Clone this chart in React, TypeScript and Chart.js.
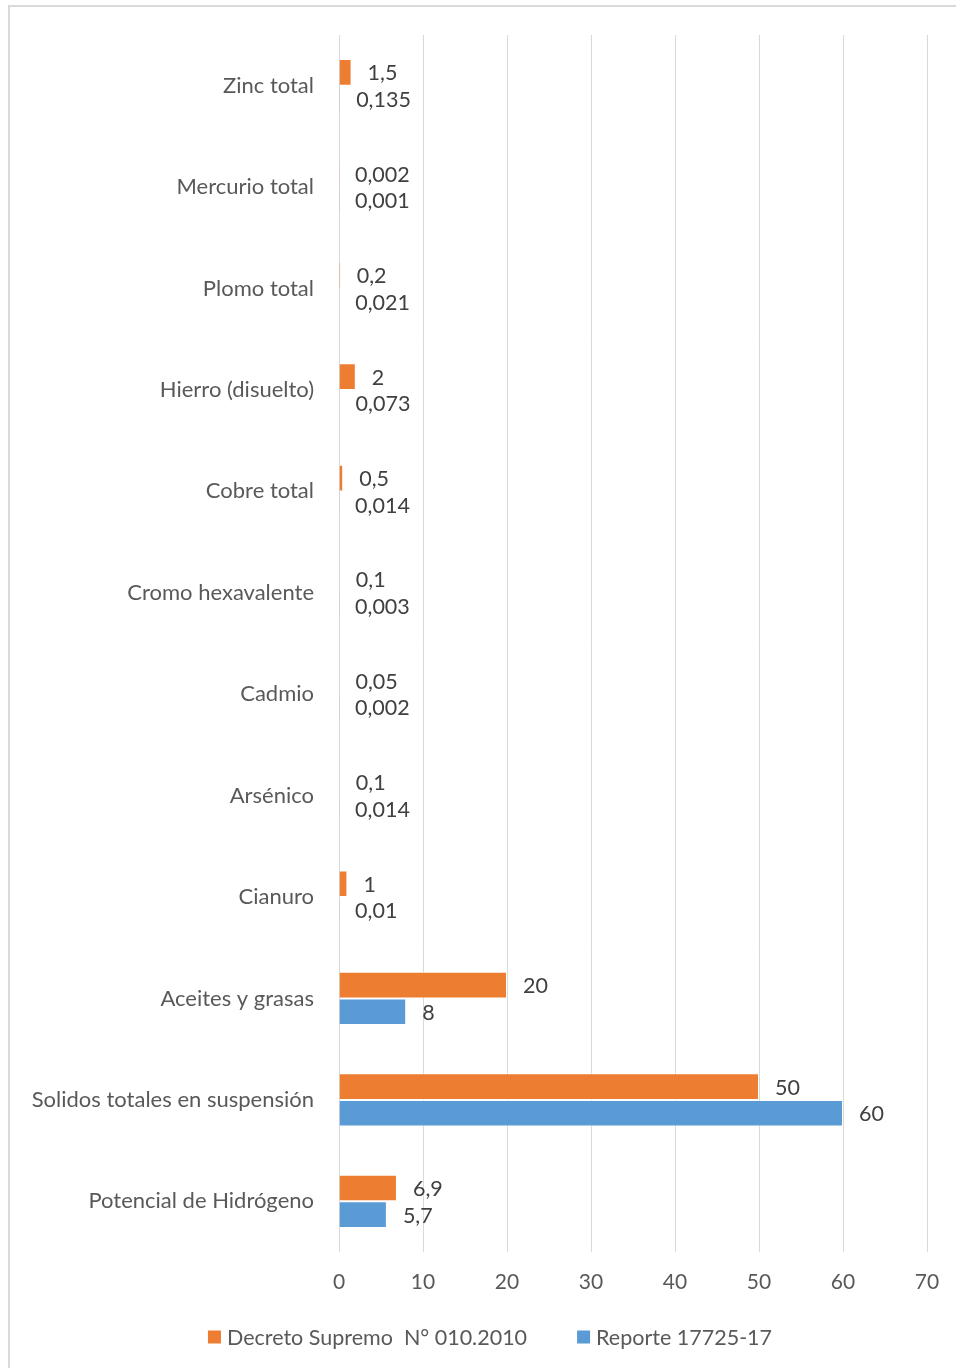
import React, { useEffect, useRef } from "react";
import { Chart, registerables } from "chart.js";

Chart.register(...registerables);

const categories = [
  "Zinc total",
  "Mercurio total",
  "Plomo total",
  "Hierro (disuelto)",
  "Cobre total",
  "Cromo hexavalente",
  "Cadmio",
  "Arsénico",
  "Cianuro",
  "Aceites y grasas",
  "Solidos totales en suspensión",
  "Potencial de Hidrógeno",
];

const decretoValues = [1.5, 0.002, 0.2, 2, 0.5, 0.1, 0.05, 0.1, 1, 20, 50, 6.9];
const reporteValues = [0.135, 0.001, 0.021, 0.073, 0.014, 0.003, 0.002, 0.014, 0.01, 8, 60, 5.7];

const seriesNames = ["Decreto Supremo  N° 010.2010", "Reporte 17725-17"];
const seriesColors = ["#ED7D31", "#5B9BD5"];

const xMin = 0;
const xMax = 70;
const xStep = 10;

const FONT = "Lato, 'Open Sans', sans-serif";

const valueLabelPlugin = {
  id: "valueLabels",
  afterDatasetsDraw(chart: any) {
    const ctx = chart.ctx;
    ctx.save();
    ctx.font = `21.5px ${FONT}`;
    ctx.fillStyle = "#404040";
    ctx.textAlign = "left";
    ctx.textBaseline = "middle";
    chart.data.datasets.forEach((ds: any, di: number) => {
      const meta = chart.getDatasetMeta(di);
      meta.data.forEach((el: any, i: number) => {
        const v = ds.data[i];
        const txt = String(v).replace(".", ",");
        ctx.fillText(txt, el.x + 16, el.y + 1);
      });
    });
    ctx.restore();
  },
};

const customLegendPlugin = {
  id: "customLegend",
  afterDraw(chart: any) {
    const ctx = chart.ctx;
    ctx.save();
    ctx.font = `21.5px ${FONT}`;
    ctx.textBaseline = "middle";
    ctx.textAlign = "left";
    const box = 13;
    const gapBoxText = 6;
    const gapItems = 50;
    const items = chart.data.datasets.map((ds: any) => ({
      label: ds.label,
      color: ds.backgroundColor,
      w: box + gapBoxText + ctx.measureText(ds.label).width,
    }));
    const total = items.reduce((s: number, it: any) => s + it.w, 0) + gapItems * (items.length - 1);
    let x = (chart.width + 24) / 2 - total / 2;
    const y = 1337;
    items.forEach((it: any) => {
      ctx.fillStyle = it.color;
      ctx.fillRect(x, y - box / 2, box, box);
      ctx.fillStyle = "#595959";
      ctx.fillText(it.label, x + box + gapBoxText, y + 1);
      x += it.w + gapItems;
    });
    ctx.restore();
  },
};

export default function App() {
  const ref = useRef<HTMLCanvasElement | null>(null);

  useEffect(() => {
    if (!ref.current) return;
    const chart = new Chart(ref.current, {
      type: "bar",
      data: {
        labels: categories,
        datasets: [
          {
            label: seriesNames[0],
            data: decretoValues,
            backgroundColor: seriesColors[0],
            borderColor: "rgba(255,255,255,0.6)",
            borderWidth: 1,
            barPercentage: 1,
            categoryPercentage: 0.525,
          },
          {
            label: seriesNames[1],
            data: reporteValues,
            backgroundColor: seriesColors[1],
            borderColor: "rgba(255,255,255,0.6)",
            borderWidth: 1,
            barPercentage: 1,
            categoryPercentage: 0.525,
          },
        ],
      },
      options: {
        indexAxis: "y",
        responsive: false,
        animation: false,
        devicePixelRatio: 1,
        layout: { padding: { left: 0, right: 29, top: 35, bottom: 66 } },
        plugins: {
          legend: { display: false },
          tooltip: { enabled: false },
        },
        scales: {
          x: {
            min: xMin,
            max: xMax,
            ticks: {
              stepSize: xStep,
              color: "#595959",
              font: { family: FONT, size: 21 },
              padding: 18,
            },
            grid: { color: "#d9d9d9", lineWidth: 1, drawTicks: false },
            border: { display: false },
            afterFit: (scale: any) => {
              scale.height = 50;
              scale.paddingLeft = 0;
              scale.paddingRight = 0;
            },
          },
          y: {
            ticks: {
              color: "#595959",
              font: { family: FONT, size: 22 },
              padding: 25,
            },
            grid: { display: false, drawTicks: false },
            border: { display: false },
            afterFit: (scale: any) => {
              scale.width = 339;
              scale.paddingTop = 0;
              scale.paddingBottom = 0;
            },
          },
        },
      } as any,
      plugins: [valueLabelPlugin, customLegendPlugin],
    });
    return () => chart.destroy();
  }, []);

  return (
    <div style={{ position: "absolute", left: 0, top: 0, width: 956, height: 1368, overflow: "hidden", background: "#fff" }}>
      <div
        style={{
          position: "absolute",
          left: 8,
          top: 5,
          width: 948,
          height: 1363,
          borderLeft: "2px solid #d9d9d9",
          borderTop: "2px solid #d9d9d9",
          boxSizing: "border-box",
        }}
      />
      <canvas ref={ref} width={956} height={1368} style={{ position: "absolute", left: 0, top: 0, width: 956, height: 1368 }} />
    </div>
  );
}
